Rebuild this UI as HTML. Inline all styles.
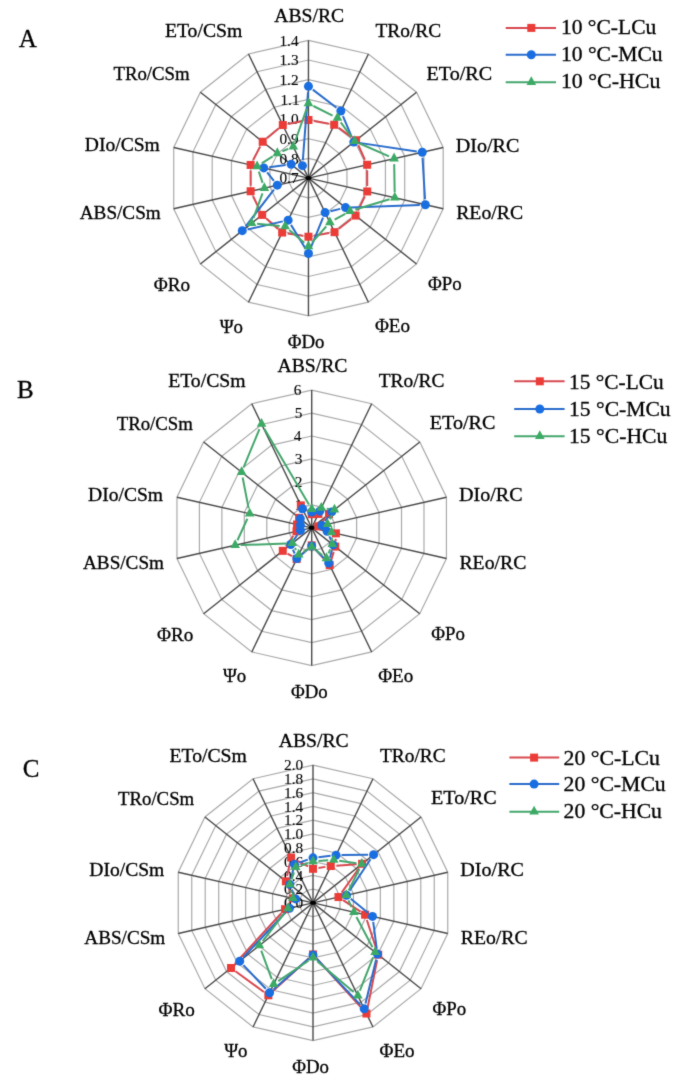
<!DOCTYPE html>
<html><head><meta charset="utf-8"><style>
html,body{margin:0;padding:0;background:#fff;}
svg{display:block;}
#w{width:685px;height:1087px;}
text{font-family:"Liberation Serif", serif;fill:#000;stroke:#000;stroke-width:0.3px;}
text.tk{stroke-width:0.1px;}
</style></head><body>
<div id="w"><svg width="685" height="1087" viewBox="0 0 685 1087">
<defs><filter id="bl" x="0" y="0" width="685" height="1087" filterUnits="userSpaceOnUse" color-interpolation-filters="sRGB"><feConvolveMatrix order="3" kernelMatrix="0.02 0.08 0.02 0.08 0.60 0.08 0.02 0.08 0.02" edgeMode="duplicate" preserveAlpha="true"/></filter></defs>
<g filter="url(#bl)">
<rect width="685" height="1087" fill="#fff"/>
<polygon points="308.45,158.42 317.02,160.37 323.89,165.83 327.70,173.72 327.70,182.48 323.89,190.37 317.02,195.83 308.45,197.78 299.88,195.83 293.01,190.37 289.20,182.48 289.20,173.72 293.01,165.83 299.88,160.37" fill="none" stroke="#AAAAAA" stroke-width="1.2"/>
<polygon points="308.45,138.74 325.58,142.64 339.32,153.56 346.95,169.34 346.95,186.86 339.32,202.64 325.58,213.56 308.45,217.46 291.32,213.56 277.58,202.64 269.95,186.86 269.95,169.34 277.58,153.56 291.32,142.64" fill="none" stroke="#AAAAAA" stroke-width="1.2"/>
<polygon points="308.45,119.06 334.15,124.91 354.76,141.29 366.19,164.96 366.19,191.24 354.76,214.91 334.15,231.29 308.45,237.14 282.75,231.29 262.14,214.91 250.71,191.24 250.71,164.96 262.14,141.29 282.75,124.91" fill="none" stroke="#AAAAAA" stroke-width="1.2"/>
<polygon points="308.45,99.39 342.71,107.18 370.19,129.02 385.44,160.58 385.44,195.62 370.19,227.18 342.71,249.02 308.45,256.81 274.19,249.02 246.71,227.18 231.46,195.62 231.46,160.58 246.71,129.02 274.19,107.18" fill="none" stroke="#AAAAAA" stroke-width="1.2"/>
<polygon points="308.45,79.71 351.28,89.45 385.63,116.75 404.69,156.21 404.69,199.99 385.63,239.45 351.28,266.75 308.45,276.49 265.62,266.75 231.27,239.45 212.21,199.99 212.21,156.21 231.27,116.75 265.62,89.45" fill="none" stroke="#AAAAAA" stroke-width="1.2"/>
<polygon points="308.45,60.03 359.85,71.72 401.06,104.48 423.94,151.83 423.94,204.37 401.06,251.72 359.85,284.48 308.45,296.17 257.05,284.48 215.84,251.72 192.96,204.37 192.96,151.83 215.84,104.48 257.05,71.72" fill="none" stroke="#AAAAAA" stroke-width="1.2"/>
<polygon points="308.45,40.35 368.41,53.99 416.50,92.21 443.19,147.45 443.19,208.75 416.50,263.99 368.41,302.21 308.45,315.85 248.49,302.21 200.40,263.99 173.71,208.75 173.71,147.45 200.40,92.21 248.49,53.99" fill="none" stroke="#AAAAAA" stroke-width="1.2"/>
<line x1="308.45" y1="178.10" x2="308.45" y2="40.35" stroke="#4A4A4A" stroke-width="1.4"/>
<line x1="308.45" y1="178.10" x2="368.41" y2="53.99" stroke="#4A4A4A" stroke-width="1.4"/>
<line x1="308.45" y1="178.10" x2="416.50" y2="92.21" stroke="#4A4A4A" stroke-width="1.4"/>
<line x1="308.45" y1="178.10" x2="443.19" y2="147.45" stroke="#4A4A4A" stroke-width="1.4"/>
<line x1="308.45" y1="178.10" x2="443.19" y2="208.75" stroke="#4A4A4A" stroke-width="1.4"/>
<line x1="308.45" y1="178.10" x2="416.50" y2="263.99" stroke="#4A4A4A" stroke-width="1.4"/>
<line x1="308.45" y1="178.10" x2="368.41" y2="302.21" stroke="#4A4A4A" stroke-width="1.4"/>
<line x1="308.45" y1="178.10" x2="308.45" y2="315.85" stroke="#4A4A4A" stroke-width="1.4"/>
<line x1="308.45" y1="178.10" x2="248.49" y2="302.21" stroke="#4A4A4A" stroke-width="1.4"/>
<line x1="308.45" y1="178.10" x2="200.40" y2="263.99" stroke="#4A4A4A" stroke-width="1.4"/>
<line x1="308.45" y1="178.10" x2="173.71" y2="208.75" stroke="#4A4A4A" stroke-width="1.4"/>
<line x1="308.45" y1="178.10" x2="173.71" y2="147.45" stroke="#4A4A4A" stroke-width="1.4"/>
<line x1="308.45" y1="178.10" x2="200.40" y2="92.21" stroke="#4A4A4A" stroke-width="1.4"/>
<line x1="308.45" y1="178.10" x2="248.49" y2="53.99" stroke="#4A4A4A" stroke-width="1.4"/>
<ellipse cx="308.45" cy="178.10" rx="3" ry="2" fill="#000"/>
<text x="279.45" y="183.30" font-size="15.3" class="tk">0.7</text>
<text x="279.45" y="163.62" font-size="15.3" class="tk">0.8</text>
<text x="279.45" y="143.94" font-size="15.3" class="tk">0.9</text>
<text x="279.45" y="124.26" font-size="15.3" class="tk">1.0</text>
<text x="280.45" y="104.59" font-size="15.3" class="tk">1.1</text>
<text x="279.45" y="84.91" font-size="15.3" class="tk">1.2</text>
<text x="279.45" y="65.23" font-size="15.3" class="tk">1.3</text>
<text x="279.45" y="45.55" font-size="15.3" class="tk">1.4</text>
<text x="274.25" y="22.10" font-size="19.0" textLength="69.91" lengthAdjust="spacingAndGlyphs" fill="#000">ABS/RC</text>
<text x="375.45" y="36.80" font-size="19.0" textLength="65.71" lengthAdjust="spacingAndGlyphs" fill="#000">TRo/RC</text>
<text x="426.49" y="79.70" font-size="19.0" textLength="65.63" lengthAdjust="spacingAndGlyphs" fill="#000">ETo/RC</text>
<text x="455.79" y="151.50" font-size="19.0" textLength="63.61" lengthAdjust="spacingAndGlyphs" fill="#000">DIo/RC</text>
<text x="456.21" y="219.30" font-size="19.0" textLength="66.86" lengthAdjust="spacingAndGlyphs" fill="#000">REo/RC</text>
<text x="428.05" y="290.40" font-size="19.0" textLength="33.67" lengthAdjust="spacingAndGlyphs" fill="#000">ΦPo</text>
<text x="374.95" y="332.00" font-size="19.0" textLength="35.10" lengthAdjust="spacingAndGlyphs" fill="#000">ΦEo</text>
<text x="287.65" y="347.90" font-size="19.0" textLength="36.71" lengthAdjust="spacingAndGlyphs" fill="#000">ΦDo</text>
<text x="219.65" y="332.60" font-size="19.0" textLength="23.33" lengthAdjust="spacingAndGlyphs" fill="#000">Ψo</text>
<text x="153.85" y="291.40" font-size="19.0" textLength="36.36" lengthAdjust="spacingAndGlyphs" fill="#000">ΦRo</text>
<text x="79.75" y="219.10" font-size="19.0" textLength="80.97" lengthAdjust="spacingAndGlyphs" fill="#000">ABS/CSm</text>
<text x="84.82" y="151.30" font-size="19.0" textLength="74.98" lengthAdjust="spacingAndGlyphs" fill="#000">DIo/CSm</text>
<text x="113.45" y="79.80" font-size="19.0" textLength="76.18" lengthAdjust="spacingAndGlyphs" fill="#000">TRo/CSm</text>
<text x="164.91" y="37.00" font-size="19.0" textLength="77.41" lengthAdjust="spacingAndGlyphs" fill="#000">ETo/CSm</text>
<path d="M313.86 120.99L328.81 123.76M338.71 127.94L351.58 137.07M358.34 145.26L364.88 159.74M367.17 170.25L367.22 185.98M364.85 196.43L357.99 210.63M351.28 218.98L338.89 228.76M329.15 233.11L313.87 235.76M303.02 235.84L287.59 233.39M278.03 228.89L266.29 218.53M259.75 209.95L253.05 196.20M250.64 185.75L250.64 170.45M253.18 160.07L260.18 146.63M266.94 138.23L278.58 128.54M288.20 123.97L303.05 121.05" fill="none" stroke="#D8484F" stroke-width="2.0"/>
<rect x="304.45" y="115.99" width="8" height="8" fill="#EB3C37"/>
<rect x="330.22" y="120.76" width="8" height="8" fill="#EB3C37"/>
<rect x="352.07" y="136.25" width="8" height="8" fill="#EB3C37"/>
<rect x="363.15" y="160.75" width="8" height="8" fill="#EB3C37"/>
<rect x="363.24" y="187.48" width="8" height="8" fill="#EB3C37"/>
<rect x="351.60" y="211.58" width="8" height="8" fill="#EB3C37"/>
<rect x="330.57" y="228.17" width="8" height="8" fill="#EB3C37"/>
<rect x="304.45" y="232.71" width="8" height="8" fill="#EB3C37"/>
<rect x="278.15" y="228.53" width="8" height="8" fill="#EB3C37"/>
<rect x="258.17" y="210.89" width="8" height="8" fill="#EB3C37"/>
<rect x="246.64" y="187.25" width="8" height="8" fill="#EB3C37"/>
<rect x="246.64" y="160.95" width="8" height="8" fill="#EB3C37"/>
<rect x="258.72" y="137.75" width="8" height="8" fill="#EB3C37"/>
<rect x="278.81" y="121.03" width="8" height="8" fill="#EB3C37"/>
<path d="M312.82 89.67L336.48 107.70M342.97 116.11L351.67 136.98M359.23 142.87L416.78 151.41M422.54 157.71L425.02 199.20M419.85 204.89L351.04 207.38M340.20 208.89L330.45 211.27M323.04 217.67L310.52 248.44M305.59 248.84L290.99 224.86M282.77 221.39L247.65 229.46M245.64 226.33L273.94 189.55M273.90 180.86L267.16 172.26M269.22 167.22L285.71 165.07M302.85 160.16L308.03 91.82" fill="none" stroke="#2A6CCC" stroke-width="2.0"/>
<circle cx="308.45" cy="86.33" r="4.5" fill="#196EE1"/>
<circle cx="340.85" cy="111.04" r="4.5" fill="#196EE1"/>
<circle cx="353.79" cy="142.06" r="4.5" fill="#196EE1"/>
<circle cx="422.22" cy="152.22" r="4.5" fill="#196EE1"/>
<circle cx="425.35" cy="204.70" r="4.5" fill="#196EE1"/>
<circle cx="345.54" cy="207.58" r="4.5" fill="#196EE1"/>
<circle cx="325.11" cy="212.58" r="4.5" fill="#196EE1"/>
<circle cx="308.45" cy="253.54" r="4.5" fill="#196EE1"/>
<circle cx="288.13" cy="220.16" r="4.5" fill="#196EE1"/>
<circle cx="242.28" cy="230.69" r="4.5" fill="#196EE1"/>
<circle cx="277.29" cy="185.19" r="4.5" fill="#196EE1"/>
<circle cx="263.77" cy="167.93" r="4.5" fill="#196EE1"/>
<circle cx="291.16" cy="164.36" r="4.5" fill="#196EE1"/>
<circle cx="302.43" cy="165.64" r="4.5" fill="#196EE1"/>
<path d="M313.38 106.01L332.57 115.54M340.76 122.41L351.46 136.89M359.77 143.52L389.06 156.40M394.19 164.12L394.68 192.24M389.51 199.32L355.29 209.56M345.22 213.83L334.66 219.73M326.20 226.52L312.11 242.32M304.28 242.84L289.29 229.97M279.64 225.89L257.03 223.82M253.44 218.15L262.48 193.30M262.61 182.91L258.85 171.64M261.72 163.44L272.71 156.35M282.41 151.24L288.20 148.81M295.10 141.50L306.62 108.75" fill="none" stroke="#44A66C" stroke-width="2.0"/>
<polygon points="308.45,97.56 313.25,106.36 303.65,106.36" fill="#3CAA64"/>
<polygon points="337.49,111.99 342.29,120.79 332.69,120.79" fill="#3CAA64"/>
<polygon points="354.73,135.31 359.53,144.11 349.93,144.11" fill="#3CAA64"/>
<polygon points="394.09,152.62 398.89,161.42 389.29,161.42" fill="#3CAA64"/>
<polygon points="394.78,191.74 399.58,200.54 389.98,200.54" fill="#3CAA64"/>
<polygon points="350.02,205.14 354.82,213.94 345.22,213.94" fill="#3CAA64"/>
<polygon points="329.86,216.42 334.66,225.22 325.06,225.22" fill="#3CAA64"/>
<polygon points="308.45,240.42 313.25,249.22 303.65,249.22" fill="#3CAA64"/>
<polygon points="285.12,220.39 289.92,229.19 280.32,229.19" fill="#3CAA64"/>
<polygon points="251.56,217.32 256.36,226.12 246.76,226.12" fill="#3CAA64"/>
<polygon points="264.35,182.13 269.15,190.93 259.55,190.93" fill="#3CAA64"/>
<polygon points="257.10,160.42 261.90,169.22 252.30,169.22" fill="#3CAA64"/>
<polygon points="277.33,147.36 282.13,156.16 272.53,156.16" fill="#3CAA64"/>
<polygon points="293.27,140.69 298.07,149.49 288.47,149.49" fill="#3CAA64"/>
<text x="18.80" y="46.70" font-size="25.0">A</text>
<line x1="505.7" y1="27.9" x2="556" y2="27.9" stroke="#D8484F" stroke-width="2.0"/>
<rect x="527.30" y="23.90" width="8" height="8" fill="#EB3C37"/>
<text x="560.95" y="34.10" font-size="21.0" textLength="95.33" lengthAdjust="spacingAndGlyphs" fill="#000">10 °C-LCu</text>
<line x1="505.7" y1="54.7" x2="556" y2="54.7" stroke="#2A6CCC" stroke-width="2.0"/>
<circle cx="531.30" cy="54.70" r="4.5" fill="#196EE1"/>
<text x="560.94" y="61.10" font-size="21.0" textLength="101.68" lengthAdjust="spacingAndGlyphs" fill="#000">10 °C-MCu</text>
<line x1="505.7" y1="82.2" x2="556" y2="82.2" stroke="#44A66C" stroke-width="2.0"/>
<polygon points="531.30,76.20 536.10,85.00 526.50,85.00" fill="#3CAA64"/>
<text x="560.91" y="88.40" font-size="21.0" textLength="99.43" lengthAdjust="spacingAndGlyphs" fill="#000">10 °C-HCu</text>
<polygon points="311.70,504.89 321.69,507.17 329.71,513.54 334.16,522.74 334.16,532.96 329.71,542.16 321.69,548.53 311.70,550.81 301.71,548.53 293.69,542.16 289.24,532.96 289.24,522.74 293.69,513.54 301.71,507.17" fill="none" stroke="#AAAAAA" stroke-width="1.2"/>
<polygon points="311.70,481.93 331.69,486.48 347.72,499.22 356.61,517.63 356.61,538.07 347.72,556.48 331.69,569.22 311.70,573.77 291.71,569.22 275.68,556.48 266.79,538.07 266.79,517.63 275.68,499.22 291.71,486.48" fill="none" stroke="#AAAAAA" stroke-width="1.2"/>
<polygon points="311.70,458.98 341.68,465.80 365.72,484.91 379.07,512.52 379.07,543.18 365.72,570.79 341.68,589.90 311.70,596.73 281.72,589.90 257.68,570.79 244.33,543.18 244.33,512.52 257.68,484.91 281.72,465.80" fill="none" stroke="#AAAAAA" stroke-width="1.2"/>
<polygon points="311.70,436.02 351.68,445.11 383.73,470.59 401.52,507.42 401.52,548.28 383.73,585.11 351.68,610.59 311.70,619.68 271.72,610.59 239.67,585.11 221.88,548.28 221.88,507.42 239.67,470.59 271.72,445.11" fill="none" stroke="#AAAAAA" stroke-width="1.2"/>
<polygon points="311.70,413.06 361.67,424.43 401.74,456.28 423.98,502.31 423.98,553.39 401.74,599.42 361.67,631.27 311.70,642.64 261.73,631.27 221.66,599.42 199.42,553.39 199.42,502.31 221.66,456.28 261.73,424.43" fill="none" stroke="#AAAAAA" stroke-width="1.2"/>
<polygon points="311.70,390.10 371.66,403.74 419.75,441.96 446.44,497.20 446.44,558.50 419.75,613.74 371.66,651.96 311.70,665.60 251.74,651.96 203.65,613.74 176.96,558.50 176.96,497.20 203.65,441.96 251.74,403.74" fill="none" stroke="#AAAAAA" stroke-width="1.2"/>
<line x1="311.70" y1="527.85" x2="311.70" y2="390.10" stroke="#4A4A4A" stroke-width="1.4"/>
<line x1="311.70" y1="527.85" x2="371.66" y2="403.74" stroke="#4A4A4A" stroke-width="1.4"/>
<line x1="311.70" y1="527.85" x2="419.75" y2="441.96" stroke="#4A4A4A" stroke-width="1.4"/>
<line x1="311.70" y1="527.85" x2="446.44" y2="497.20" stroke="#4A4A4A" stroke-width="1.4"/>
<line x1="311.70" y1="527.85" x2="446.44" y2="558.50" stroke="#4A4A4A" stroke-width="1.4"/>
<line x1="311.70" y1="527.85" x2="419.75" y2="613.74" stroke="#4A4A4A" stroke-width="1.4"/>
<line x1="311.70" y1="527.85" x2="371.66" y2="651.96" stroke="#4A4A4A" stroke-width="1.4"/>
<line x1="311.70" y1="527.85" x2="311.70" y2="665.60" stroke="#4A4A4A" stroke-width="1.4"/>
<line x1="311.70" y1="527.85" x2="251.74" y2="651.96" stroke="#4A4A4A" stroke-width="1.4"/>
<line x1="311.70" y1="527.85" x2="203.65" y2="613.74" stroke="#4A4A4A" stroke-width="1.4"/>
<line x1="311.70" y1="527.85" x2="176.96" y2="558.50" stroke="#4A4A4A" stroke-width="1.4"/>
<line x1="311.70" y1="527.85" x2="176.96" y2="497.20" stroke="#4A4A4A" stroke-width="1.4"/>
<line x1="311.70" y1="527.85" x2="203.65" y2="441.96" stroke="#4A4A4A" stroke-width="1.4"/>
<line x1="311.70" y1="527.85" x2="251.74" y2="403.74" stroke="#4A4A4A" stroke-width="1.4"/>
<ellipse cx="311.70" cy="527.85" rx="3" ry="2" fill="#000"/>
<text x="294.70" y="533.05" font-size="15.3" class="tk">0</text>
<text x="294.70" y="510.09" font-size="15.3" class="tk">1</text>
<text x="294.70" y="487.13" font-size="15.3" class="tk">2</text>
<text x="294.70" y="464.18" font-size="15.3" class="tk">3</text>
<text x="293.70" y="441.22" font-size="15.3" class="tk">4</text>
<text x="294.70" y="418.26" font-size="15.3" class="tk">5</text>
<text x="293.70" y="395.30" font-size="15.3" class="tk">6</text>
<text x="277.50" y="371.85" font-size="19.0" textLength="69.91" lengthAdjust="spacingAndGlyphs" fill="#000">ABS/RC</text>
<text x="378.70" y="386.55" font-size="19.0" textLength="65.71" lengthAdjust="spacingAndGlyphs" fill="#000">TRo/RC</text>
<text x="429.74" y="429.45" font-size="19.0" textLength="65.63" lengthAdjust="spacingAndGlyphs" fill="#000">ETo/RC</text>
<text x="459.04" y="501.25" font-size="19.0" textLength="63.61" lengthAdjust="spacingAndGlyphs" fill="#000">DIo/RC</text>
<text x="459.46" y="569.05" font-size="19.0" textLength="66.86" lengthAdjust="spacingAndGlyphs" fill="#000">REo/RC</text>
<text x="431.30" y="640.15" font-size="19.0" textLength="33.67" lengthAdjust="spacingAndGlyphs" fill="#000">ΦPo</text>
<text x="378.20" y="681.75" font-size="19.0" textLength="35.10" lengthAdjust="spacingAndGlyphs" fill="#000">ΦEo</text>
<text x="290.90" y="697.65" font-size="19.0" textLength="36.71" lengthAdjust="spacingAndGlyphs" fill="#000">ΦDo</text>
<text x="222.90" y="682.35" font-size="19.0" textLength="23.33" lengthAdjust="spacingAndGlyphs" fill="#000">Ψo</text>
<text x="157.10" y="641.15" font-size="19.0" textLength="36.36" lengthAdjust="spacingAndGlyphs" fill="#000">ΦRo</text>
<text x="83.00" y="568.85" font-size="19.0" textLength="80.97" lengthAdjust="spacingAndGlyphs" fill="#000">ABS/CSm</text>
<text x="88.07" y="501.05" font-size="19.0" textLength="74.98" lengthAdjust="spacingAndGlyphs" fill="#000">DIo/CSm</text>
<text x="116.70" y="429.55" font-size="19.0" textLength="76.18" lengthAdjust="spacingAndGlyphs" fill="#000">TRo/CSm</text>
<text x="168.16" y="386.75" font-size="19.0" textLength="77.41" lengthAdjust="spacingAndGlyphs" fill="#000">ETo/CSm</text>
<path d="M325.38 518.26L321.97 522.18M323.47 528.38L330.80 531.31M335.64 538.85L335.54 541.09M333.69 551.86L331.29 559.86M326.00 561.06L315.41 549.45M307.62 549.07L300.73 555.30M291.91 556.20L287.52 553.62M285.95 546.34L293.35 535.80M299.88 512.41L300.09 510.82M305.10 508.85L307.44 510.75" fill="none" stroke="#D8484F" stroke-width="2.0"/>
<rect x="307.70" y="510.23" width="8" height="8" fill="#EB3C37"/>
<rect x="314.42" y="509.95" width="8" height="8" fill="#EB3C37"/>
<rect x="324.99" y="510.11" width="8" height="8" fill="#EB3C37"/>
<rect x="314.36" y="522.33" width="8" height="8" fill="#EB3C37"/>
<rect x="331.90" y="529.36" width="8" height="8" fill="#EB3C37"/>
<rect x="331.27" y="542.59" width="8" height="8" fill="#EB3C37"/>
<rect x="325.71" y="561.13" width="8" height="8" fill="#EB3C37"/>
<rect x="307.70" y="541.38" width="8" height="8" fill="#EB3C37"/>
<rect x="292.65" y="554.99" width="8" height="8" fill="#EB3C37"/>
<rect x="278.78" y="546.84" width="8" height="8" fill="#EB3C37"/>
<rect x="292.51" y="527.31" width="8" height="8" fill="#EB3C37"/>
<rect x="293.00" y="520.51" width="8" height="8" fill="#EB3C37"/>
<rect x="295.13" y="513.86" width="8" height="8" fill="#EB3C37"/>
<rect x="296.84" y="501.38" width="8" height="8" fill="#EB3C37"/>
<path d="M325.26 511.50L326.25 511.57M328.51 516.38L325.11 521.08M329.33 536.37L330.90 539.88M331.84 550.24L330.02 557.71M324.84 559.14L315.57 549.79M307.52 549.45L301.06 554.97M294.66 553.50L292.93 549.56M293.84 540.00L297.31 534.94" fill="none" stroke="#2A6CCC" stroke-width="2.0"/>
<circle cx="311.70" cy="512.02" r="4.5" fill="#196EE1"/>
<circle cx="319.77" cy="511.15" r="4.5" fill="#196EE1"/>
<circle cx="331.74" cy="511.92" r="4.5" fill="#196EE1"/>
<circle cx="321.89" cy="525.53" r="4.5" fill="#196EE1"/>
<circle cx="327.08" cy="531.35" r="4.5" fill="#196EE1"/>
<circle cx="333.15" cy="544.90" r="4.5" fill="#196EE1"/>
<circle cx="328.71" cy="563.05" r="4.5" fill="#196EE1"/>
<circle cx="311.70" cy="545.88" r="4.5" fill="#196EE1"/>
<circle cx="296.87" cy="558.54" r="4.5" fill="#196EE1"/>
<circle cx="290.72" cy="544.53" r="4.5" fill="#196EE1"/>
<circle cx="300.43" cy="530.41" r="4.5" fill="#196EE1"/>
<circle cx="300.43" cy="525.29" r="4.5" fill="#196EE1"/>
<circle cx="300.31" cy="518.79" r="4.5" fill="#196EE1"/>
<circle cx="302.50" cy="508.80" r="4.5" fill="#196EE1"/>
<path d="M326.75 508.71L329.04 509.02M332.12 514.70L329.94 519.27M331.86 537.84L331.92 538.73M330.19 549.30L328.54 553.28M322.10 554.98L316.04 550.26M306.99 549.73L303.41 551.90M296.02 549.95L294.97 548.08M286.79 543.47L240.67 545.07M237.47 540.26L247.37 518.74M248.63 508.34L242.65 477.53M243.71 467.05L259.44 429.13M264.34 428.79L308.91 504.58" fill="none" stroke="#44A66C" stroke-width="2.0"/>
<polygon points="311.70,503.32 316.50,512.12 306.90,512.12" fill="#3CAA64"/>
<polygon points="321.29,501.99 326.09,510.79 316.49,510.79" fill="#3CAA64"/>
<polygon points="334.49,503.74 339.29,512.54 329.69,512.54" fill="#3CAA64"/>
<polygon points="327.57,518.24 332.37,527.04 322.77,527.04" fill="#3CAA64"/>
<polygon points="331.49,526.35 336.29,535.15 326.69,535.15" fill="#3CAA64"/>
<polygon points="332.29,538.22 337.09,547.02 327.49,547.02" fill="#3CAA64"/>
<polygon points="326.44,552.36 331.24,561.16 321.64,561.16" fill="#3CAA64"/>
<polygon points="311.70,540.88 316.50,549.68 306.90,549.68" fill="#3CAA64"/>
<polygon points="298.70,548.75 303.50,557.55 293.90,557.55" fill="#3CAA64"/>
<polygon points="292.29,537.28 297.09,546.08 287.49,546.08" fill="#3CAA64"/>
<polygon points="235.17,539.26 239.97,548.06 230.37,548.06" fill="#3CAA64"/>
<polygon points="249.67,507.74 254.47,516.54 244.87,516.54" fill="#3CAA64"/>
<polygon points="241.61,466.13 246.41,474.93 236.81,474.93" fill="#3CAA64"/>
<polygon points="261.55,418.05 266.35,426.85 256.75,426.85" fill="#3CAA64"/>
<text x="16.90" y="397.70" font-size="25.0">B</text>
<line x1="514.2" y1="381.3" x2="564.6" y2="381.3" stroke="#D8484F" stroke-width="2.0"/>
<rect x="535.80" y="377.30" width="8" height="8" fill="#EB3C37"/>
<text x="569.07" y="388.50" font-size="21.0" textLength="94.52" lengthAdjust="spacingAndGlyphs" fill="#000">15 °C-LCu</text>
<line x1="514.2" y1="409" x2="564.6" y2="409" stroke="#2A6CCC" stroke-width="2.0"/>
<circle cx="539.80" cy="409.00" r="4.5" fill="#196EE1"/>
<text x="569.04" y="415.50" font-size="21.0" textLength="101.58" lengthAdjust="spacingAndGlyphs" fill="#000">15 °C-MCu</text>
<line x1="514.2" y1="436.3" x2="564.6" y2="436.3" stroke="#44A66C" stroke-width="2.0"/>
<polygon points="539.80,430.30 544.60,439.10 535.00,439.10" fill="#3CAA64"/>
<text x="569.04" y="442.50" font-size="21.0" textLength="98.30" lengthAdjust="spacingAndGlyphs" fill="#000">15 °C-HCu</text>
<polygon points="313.00,889.08 319.00,890.44 323.80,894.26 326.47,899.78 326.47,905.92 323.80,911.44 319.00,915.26 313.00,916.62 307.00,915.26 302.20,911.44 299.53,905.92 299.53,899.78 302.20,894.26 307.00,890.44" fill="none" stroke="#AAAAAA" stroke-width="1.2"/>
<polygon points="313.00,875.30 324.99,878.03 334.61,885.67 339.95,896.72 339.95,908.98 334.61,920.03 324.99,927.67 313.00,930.40 301.01,927.67 291.39,920.03 286.05,908.98 286.05,896.72 291.39,885.67 301.01,878.03" fill="none" stroke="#AAAAAA" stroke-width="1.2"/>
<polygon points="313.00,861.52 330.99,865.62 345.41,877.08 353.42,893.65 353.42,912.05 345.41,928.62 330.99,940.08 313.00,944.18 295.01,940.08 280.59,928.62 272.58,912.05 272.58,893.65 280.59,877.08 295.01,865.62" fill="none" stroke="#AAAAAA" stroke-width="1.2"/>
<polygon points="313.00,847.75 336.99,853.21 356.22,868.50 366.89,890.59 366.89,915.11 356.22,937.20 336.99,952.49 313.00,957.95 289.01,952.49 269.78,937.20 259.11,915.11 259.11,890.59 269.78,868.50 289.01,853.21" fill="none" stroke="#AAAAAA" stroke-width="1.2"/>
<polygon points="313.00,833.98 342.98,840.80 367.02,859.91 380.37,887.52 380.37,918.18 367.02,945.79 342.98,964.90 313.00,971.73 283.02,964.90 258.98,945.79 245.63,918.18 245.63,887.52 258.98,859.91 283.02,840.80" fill="none" stroke="#AAAAAA" stroke-width="1.2"/>
<polygon points="313.00,820.20 348.98,828.38 377.83,851.32 393.84,884.46 393.84,921.24 377.83,954.38 348.98,977.32 313.00,985.50 277.02,977.32 248.17,954.38 232.16,921.24 232.16,884.46 248.17,851.32 277.02,828.38" fill="none" stroke="#AAAAAA" stroke-width="1.2"/>
<polygon points="313.00,806.43 354.97,815.97 388.63,842.73 407.31,881.39 407.31,924.31 388.63,962.97 354.97,989.73 313.00,999.27 271.03,989.73 237.37,962.97 218.69,924.31 218.69,881.39 237.37,842.73 271.03,815.97" fill="none" stroke="#AAAAAA" stroke-width="1.2"/>
<polygon points="313.00,792.65 360.97,803.56 399.44,834.14 420.79,878.33 420.79,927.37 399.44,971.56 360.97,1002.14 313.00,1013.05 265.03,1002.14 226.56,971.56 205.21,927.37 205.21,878.33 226.56,834.14 265.03,803.56" fill="none" stroke="#AAAAAA" stroke-width="1.2"/>
<polygon points="313.00,778.88 366.97,791.15 410.24,825.55 434.26,875.26 434.26,930.44 410.24,980.15 366.97,1014.55 313.00,1026.83 259.03,1014.55 215.76,980.15 191.74,930.44 191.74,875.26 215.76,825.55 259.03,791.15" fill="none" stroke="#AAAAAA" stroke-width="1.2"/>
<polygon points="313.00,765.10 372.96,778.74 421.05,816.96 447.74,872.20 447.74,933.50 421.05,988.74 372.96,1026.96 313.00,1040.60 253.04,1026.96 204.95,988.74 178.26,933.50 178.26,872.20 204.95,816.96 253.04,778.74" fill="none" stroke="#AAAAAA" stroke-width="1.2"/>
<line x1="313.00" y1="902.85" x2="313.00" y2="765.10" stroke="#4A4A4A" stroke-width="1.4"/>
<line x1="313.00" y1="902.85" x2="372.96" y2="778.74" stroke="#4A4A4A" stroke-width="1.4"/>
<line x1="313.00" y1="902.85" x2="421.05" y2="816.96" stroke="#4A4A4A" stroke-width="1.4"/>
<line x1="313.00" y1="902.85" x2="447.74" y2="872.20" stroke="#4A4A4A" stroke-width="1.4"/>
<line x1="313.00" y1="902.85" x2="447.74" y2="933.50" stroke="#4A4A4A" stroke-width="1.4"/>
<line x1="313.00" y1="902.85" x2="421.05" y2="988.74" stroke="#4A4A4A" stroke-width="1.4"/>
<line x1="313.00" y1="902.85" x2="372.96" y2="1026.96" stroke="#4A4A4A" stroke-width="1.4"/>
<line x1="313.00" y1="902.85" x2="313.00" y2="1040.60" stroke="#4A4A4A" stroke-width="1.4"/>
<line x1="313.00" y1="902.85" x2="253.04" y2="1026.96" stroke="#4A4A4A" stroke-width="1.4"/>
<line x1="313.00" y1="902.85" x2="204.95" y2="988.74" stroke="#4A4A4A" stroke-width="1.4"/>
<line x1="313.00" y1="902.85" x2="178.26" y2="933.50" stroke="#4A4A4A" stroke-width="1.4"/>
<line x1="313.00" y1="902.85" x2="178.26" y2="872.20" stroke="#4A4A4A" stroke-width="1.4"/>
<line x1="313.00" y1="902.85" x2="204.95" y2="816.96" stroke="#4A4A4A" stroke-width="1.4"/>
<line x1="313.00" y1="902.85" x2="253.04" y2="778.74" stroke="#4A4A4A" stroke-width="1.4"/>
<ellipse cx="313.00" cy="902.85" rx="3" ry="2" fill="#000"/>
<text x="284.00" y="908.05" font-size="15.3" class="tk">0.0</text>
<text x="284.00" y="894.28" font-size="15.3" class="tk">0.2</text>
<text x="284.00" y="880.50" font-size="15.3" class="tk">0.4</text>
<text x="284.00" y="866.73" font-size="15.3" class="tk">0.6</text>
<text x="284.00" y="852.95" font-size="15.3" class="tk">0.8</text>
<text x="284.00" y="839.18" font-size="15.3" class="tk">1.0</text>
<text x="284.00" y="825.40" font-size="15.3" class="tk">1.2</text>
<text x="284.00" y="811.63" font-size="15.3" class="tk">1.4</text>
<text x="284.00" y="797.85" font-size="15.3" class="tk">1.6</text>
<text x="284.00" y="784.08" font-size="15.3" class="tk">1.8</text>
<text x="284.00" y="770.30" font-size="15.3" class="tk">2.0</text>
<text x="278.80" y="746.85" font-size="19.0" textLength="69.91" lengthAdjust="spacingAndGlyphs" fill="#000">ABS/RC</text>
<text x="380.00" y="761.55" font-size="19.0" textLength="65.71" lengthAdjust="spacingAndGlyphs" fill="#000">TRo/RC</text>
<text x="431.04" y="804.45" font-size="19.0" textLength="65.63" lengthAdjust="spacingAndGlyphs" fill="#000">ETo/RC</text>
<text x="460.34" y="876.25" font-size="19.0" textLength="63.61" lengthAdjust="spacingAndGlyphs" fill="#000">DIo/RC</text>
<text x="460.76" y="944.05" font-size="19.0" textLength="66.86" lengthAdjust="spacingAndGlyphs" fill="#000">REo/RC</text>
<text x="432.60" y="1015.15" font-size="19.0" textLength="33.67" lengthAdjust="spacingAndGlyphs" fill="#000">ΦPo</text>
<text x="379.50" y="1056.75" font-size="19.0" textLength="35.10" lengthAdjust="spacingAndGlyphs" fill="#000">ΦEo</text>
<text x="292.20" y="1072.65" font-size="19.0" textLength="36.71" lengthAdjust="spacingAndGlyphs" fill="#000">ΦDo</text>
<text x="224.20" y="1057.35" font-size="19.0" textLength="23.33" lengthAdjust="spacingAndGlyphs" fill="#000">Ψo</text>
<text x="158.40" y="1016.15" font-size="19.0" textLength="36.36" lengthAdjust="spacingAndGlyphs" fill="#000">ΦRo</text>
<text x="84.30" y="943.85" font-size="19.0" textLength="80.97" lengthAdjust="spacingAndGlyphs" fill="#000">ABS/CSm</text>
<text x="89.37" y="876.05" font-size="19.0" textLength="74.98" lengthAdjust="spacingAndGlyphs" fill="#000">DIo/CSm</text>
<text x="118.00" y="804.55" font-size="19.0" textLength="76.18" lengthAdjust="spacingAndGlyphs" fill="#000">TRo/CSm</text>
<text x="169.46" y="761.75" font-size="19.0" textLength="77.41" lengthAdjust="spacingAndGlyphs" fill="#000">ETo/CSm</text>
<path d="M318.43 867.94L325.36 866.87M336.28 865.64L356.63 864.20M358.93 868.29L341.66 892.57M343.06 900.09L360.54 911.67M366.84 919.94L376.51 949.47M377.14 960.09L367.54 1008.12M362.77 1009.43L316.69 958.52M308.94 958.16L272.40 991.57M263.90 992.03L235.48 971.24M234.76 963.95L281.35 913.25M288.28 904.73L289.71 902.75M290.81 893.20L287.99 886.38M287.07 875.93L289.93 862.91M296.00 860.05L308.11 866.27" fill="none" stroke="#D8484F" stroke-width="2.0"/>
<rect x="309.00" y="864.79" width="8" height="8" fill="#EB3C37"/>
<rect x="326.79" y="862.02" width="8" height="8" fill="#EB3C37"/>
<rect x="358.11" y="859.81" width="8" height="8" fill="#EB3C37"/>
<rect x="334.48" y="893.05" width="8" height="8" fill="#EB3C37"/>
<rect x="361.13" y="910.71" width="8" height="8" fill="#EB3C37"/>
<rect x="374.22" y="950.69" width="8" height="8" fill="#EB3C37"/>
<rect x="362.46" y="1009.51" width="8" height="8" fill="#EB3C37"/>
<rect x="309.00" y="950.44" width="8" height="8" fill="#EB3C37"/>
<rect x="264.34" y="991.28" width="8" height="8" fill="#EB3C37"/>
<rect x="227.04" y="964.00" width="8" height="8" fill="#EB3C37"/>
<rect x="281.07" y="905.20" width="8" height="8" fill="#EB3C37"/>
<rect x="288.91" y="894.28" width="8" height="8" fill="#EB3C37"/>
<rect x="281.89" y="877.30" width="8" height="8" fill="#EB3C37"/>
<rect x="287.11" y="853.54" width="8" height="8" fill="#EB3C37"/>
<path d="M318.46 857.23L330.56 855.83M341.53 855.12L368.09 854.76M370.53 859.27L349.57 890.65M350.78 898.70L368.22 912.91M373.20 921.83L376.72 948.62M376.14 959.42L365.49 1003.47M360.41 1004.83L316.79 958.93M308.85 958.56L273.71 989.14M265.79 988.75L243.46 965.12M243.45 957.12L285.71 912.21M293.60 893.80L291.87 889.52M291.03 879.06L293.16 869.67M299.58 862.51L307.80 859.67" fill="none" stroke="#2A6CCC" stroke-width="2.0"/>
<circle cx="313.00" cy="857.87" r="4.5" fill="#196EE1"/>
<circle cx="336.03" cy="855.19" r="4.5" fill="#196EE1"/>
<circle cx="373.59" cy="854.69" r="4.5" fill="#196EE1"/>
<circle cx="346.51" cy="895.23" r="4.5" fill="#196EE1"/>
<circle cx="372.48" cy="916.38" r="4.5" fill="#196EE1"/>
<circle cx="377.44" cy="954.07" r="4.5" fill="#196EE1"/>
<circle cx="364.20" cy="1008.82" r="4.5" fill="#196EE1"/>
<circle cx="313.00" cy="954.94" r="4.5" fill="#196EE1"/>
<circle cx="269.57" cy="992.75" r="4.5" fill="#196EE1"/>
<circle cx="239.68" cy="961.13" r="4.5" fill="#196EE1"/>
<circle cx="289.48" cy="908.20" r="4.5" fill="#196EE1"/>
<circle cx="295.66" cy="898.90" r="4.5" fill="#196EE1"/>
<circle cx="289.82" cy="884.42" r="4.5" fill="#196EE1"/>
<circle cx="294.38" cy="864.31" r="4.5" fill="#196EE1"/>
<path d="M318.49 861.08L328.23 860.37M339.16 860.77L356.36 863.27M359.34 868.98L348.67 890.37M348.49 900.30L351.59 907.14M356.44 917.01L372.50 947.34M373.05 957.31L359.86 990.53M353.63 992.08L317.20 961.21M308.44 960.73L278.22 981.18M271.76 979.11L261.24 950.67M262.70 941.17L284.64 912.88M291.71 892.91L291.02 889.79M291.62 879.23L293.98 872.40M300.99 865.46L307.78 863.21" fill="none" stroke="#44A66C" stroke-width="2.0"/>
<polygon points="313.00,855.47 317.80,864.27 308.20,864.27" fill="#3CAA64"/>
<polygon points="333.71,853.98 338.51,862.78 328.91,862.78" fill="#3CAA64"/>
<polygon points="361.80,858.06 366.60,866.86 357.00,866.86" fill="#3CAA64"/>
<polygon points="346.22,889.29 351.02,898.09 341.42,898.09" fill="#3CAA64"/>
<polygon points="353.86,906.15 358.66,914.95 349.06,914.95" fill="#3CAA64"/>
<polygon points="375.08,946.20 379.88,955.00 370.28,955.00" fill="#3CAA64"/>
<polygon points="357.83,989.64 362.63,998.44 353.03,998.44" fill="#3CAA64"/>
<polygon points="313.00,951.65 317.80,960.45 308.20,960.45" fill="#3CAA64"/>
<polygon points="273.66,978.27 278.46,987.07 268.86,987.07" fill="#3CAA64"/>
<polygon points="259.33,939.51 264.13,948.31 254.53,948.31" fill="#3CAA64"/>
<polygon points="288.01,902.53 292.81,911.33 283.21,911.33" fill="#3CAA64"/>
<polygon points="292.91,892.28 297.71,901.08 288.11,901.08" fill="#3CAA64"/>
<polygon points="289.82,878.42 294.62,887.22 285.02,887.22" fill="#3CAA64"/>
<polygon points="295.77,861.20 300.57,870.00 290.97,870.00" fill="#3CAA64"/>
<text x="22.70" y="776.70" font-size="25.0">C</text>
<line x1="509.4" y1="757.6" x2="559.2" y2="757.6" stroke="#D8484F" stroke-width="2.0"/>
<rect x="530.10" y="753.60" width="8" height="8" fill="#EB3C37"/>
<text x="563.56" y="764.70" font-size="21.0" textLength="96.42" lengthAdjust="spacingAndGlyphs" fill="#000">20 °C-LCu</text>
<line x1="509.4" y1="784.1" x2="559.2" y2="784.1" stroke="#2A6CCC" stroke-width="2.0"/>
<circle cx="534.10" cy="784.10" r="4.5" fill="#196EE1"/>
<text x="563.57" y="791.20" font-size="21.0" textLength="102.16" lengthAdjust="spacingAndGlyphs" fill="#000">20 °C-MCu</text>
<line x1="509.4" y1="811.7" x2="559.2" y2="811.7" stroke="#44A66C" stroke-width="2.0"/>
<polygon points="534.10,805.70 538.90,814.50 529.30,814.50" fill="#3CAA64"/>
<text x="563.57" y="818.20" font-size="21.0" textLength="98.37" lengthAdjust="spacingAndGlyphs" fill="#000">20 °C-HCu</text>
</g>
</svg></div>
</body></html>
